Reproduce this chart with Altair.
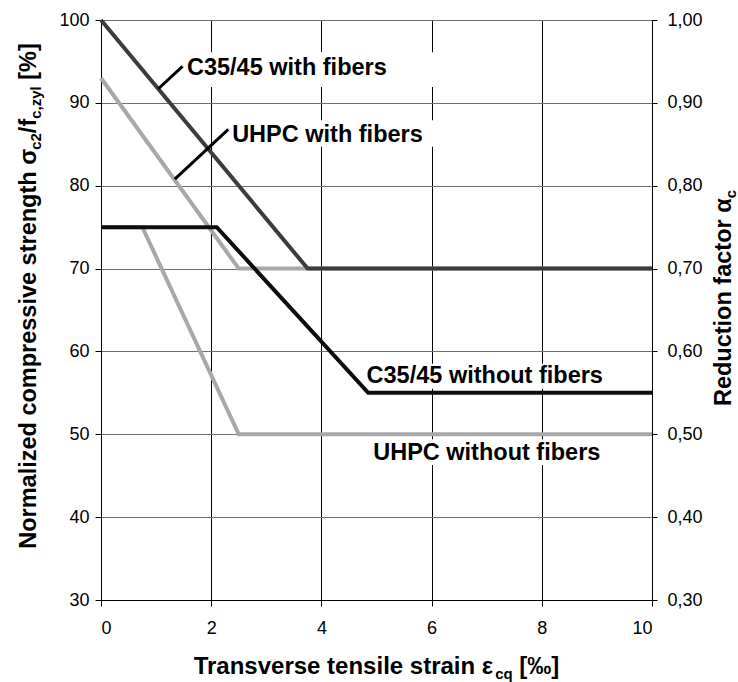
import altair as alt
import pandas as pd

# ---------------- data ----------------
strain_c35_fib = [0, 3.75, 10]
strength_c35_fib = [100, 70, 70]
strain_uhpc_fib = [0, 2.5, 10]
strength_uhpc_fib = [93, 70, 70]
strain_c35_nofib = [0, 2.1, 4.85, 10]
strength_c35_nofib = [75, 75, 55, 55]
strain_uhpc_nofib = [0, 0.75, 2.5, 10]
strength_uhpc_nofib = [75, 75, 50, 50]

x_ticks = [0, 2, 4, 6, 8, 10]
y_ticks = [30, 40, 50, 60, 70, 80, 90, 100]
factor_ticks = [0.30, 0.40, 0.50, 0.60, 0.70, 0.80, 0.90, 1.00]

label_texts = ["C35/45 with fibers", "UHPC with fibers", "C35/45 without fibers", "UHPC without fibers"]
label_x = [1.56, 2.38, 4.82, 4.94]
label_y = [94.2, 86.1, 57.0, 47.7]
box_x1 = [1.50, 2.33, 4.75, 4.85]
box_x2 = [6.15, 6.15, 10.0, 9.00]
box_y1 = [91.9, 84.7, 55.5, 46.3]
box_y2 = [96.1, 87.9, 58.5, 49.4]

leader_id = ["a", "a", "b", "b"]
leader_x = [1.04, 1.48, 1.34, 2.31]
leader_y = [91.7, 94.4, 80.8, 86.8]

# ---------------- styling ----------------
F = "Liberation Sans"
FS_L = 23.5
FS_S = 15
SUB_SHIFT = 5
W_PLOT, H_PLOT = 551, 580
PAD = {"left": 101, "top": 20, "right": 86, "bottom": 82}

xs = alt.Scale(domain=[0, 10], nice=False, zero=False)
ys = alt.Scale(domain=[30, 100], nice=False, zero=False)
xaxis = alt.Axis(values=x_ticks, title=None, grid=True, gridColor="black", gridWidth=1,
                 tickSize=6, labelPadding=13, format="d")
yaxis = alt.Axis(values=y_ticks, title=None, grid=True, gridColor="#6e6e6e", gridWidth=1,
                 tickSize=6, labelPadding=6, format="d")


def X(f):
    return alt.X(f, type="quantitative", scale=xs, axis=xaxis)


def Y(f):
    return alt.Y(f, type="quantitative", scale=ys, axis=yaxis)


boxes = alt.Chart(pd.DataFrame({"x1": box_x1, "x2": box_x2, "y1": box_y1, "y2": box_y2})).mark_rect(
    fill="white", strokeWidth=0
).encode(x=X("x1"), x2="x2", y=Y("y1"), y2="y2")


def line(xv, yv, color):
    return alt.Chart(pd.DataFrame({"e": xv, "s": yv})).mark_line(
        color=color, strokeWidth=4, strokeJoin="miter"
    ).encode(x=X("e"), y=Y("s"), order=alt.Order("e:Q"))


l_uhpc_nf = line(strain_uhpc_nofib, strength_uhpc_nofib, "#a8a8a8")
l_uhpc_f = line(strain_uhpc_fib, strength_uhpc_fib, "#a8a8a8")
l_c35_f = line(strain_c35_fib, strength_c35_fib, "#3c3c3c")
l_c35_nf = line(strain_c35_nofib, strength_c35_nofib, "#0d0d0d")

leaders = alt.Chart(pd.DataFrame({"id": leader_id, "x": leader_x, "y": leader_y})).mark_line(
    color="black", strokeWidth=3
).encode(x=X("x"), y=Y("y"), detail="id:N")

labels = alt.Chart(pd.DataFrame({"t": label_texts, "x": label_x, "y": label_y})).mark_text(
    align="left", baseline="middle", font=F, fontSize=FS_L, fontWeight="bold", color="black"
).encode(x=X("x"), y=Y("y"), text="t:N")

# ---------------- composed axis titles (with subscripts) ----------------
WID = {' ': 278, '%': 889, ',': 278, '/': 278, '[': 333, ']': 333, '‰': 1000,
       '0': 556, '1': 556, '2': 556, '3': 556, '4': 556, '5': 556,
       'N': 722, 'R': 722, 'T': 611,
       'a': 556, 'b': 611, 'c': 556, 'd': 611, 'e': 556, 'f': 333, 'g': 611, 'h': 611,
       'i': 278, 'l': 278, 'm': 889, 'n': 611, 'o': 611, 'p': 611, 'q': 611, 'r': 389,
       's': 556, 't': 333, 'u': 611, 'v': 556, 'y': 556, 'z': 500,
       'σ': 640, 'α': 620, 'ε': 500}


def tw(s, size):
    return sum(WID.get(ch, 556) for ch in s) / 1000 * size


def title_layers(segs, horizontal, base, center):
    total = sum(tw(t, s) for t, s, _ in segs)
    out = []
    cum = 0.0
    for t, s, sub in segs:
        shift = SUB_SHIFT if sub else 0
        lead = len(t) - len(t.lstrip(" "))
        off = tw(" " * lead, s)
        txt = t.strip(" ")
        if horizontal:
            px, py, ang = center - total / 2 + cum + off, base + shift, 0
        else:
            px, py, ang = base + shift, center + total / 2 - cum - off, 270
        out.append(
            alt.Chart(pd.DataFrame({"t": [txt]})).mark_text(
                align="left", baseline="alphabetic", font=F, fontSize=s, fontWeight="bold",
                color="black", angle=ang
            ).encode(x=alt.value(px), y=alt.value(py), text="t:N")
        )
        cum += tw(t, s)
    return out


left_title = title_layers(
    [("Normalized compressive strength σ", 23.5, False), ("c2", FS_S, True), ("/f", 23.5, False),
     ("c,zyl", FS_S, True), (" [%]", 23.5, False)],
    horizontal=False, base=36 - PAD["left"], center=296 - PAD["top"])
bottom_title = title_layers(
    [("Transverse tensile strain ε", 24, False), ("cq", FS_S, True), (" [‰]", 24, False)],
    horizontal=True, base=674 - PAD["top"], center=W_PLOT / 2)
right_title = title_layers(
    [("Reduction factor α", 23.5, False), ("c", FS_S, True)],
    horizontal=False, base=731 - PAD["left"], center=298 - PAD["top"])

main = alt.layer(boxes, l_uhpc_nf, l_uhpc_f, l_c35_f, l_c35_nf, leaders, labels,
                 *left_title, *bottom_title, *right_title)

right_axis = alt.Chart(pd.DataFrame({"f": factor_ticks})).mark_point(opacity=0).encode(
    x=alt.value(W_PLOT),
    y=alt.Y("f:Q", scale=alt.Scale(domain=[0.3, 1.0], nice=False, zero=False),
            axis=alt.Axis(orient="right", values=factor_ticks, title=None, grid=False,
                          tickSize=5, labelPadding=10,
                          labelExpr="replace(format(datum.value, '.2f'), '.', ',')"))
)

chart = alt.layer(main, right_axis).resolve_scale(y="independent").properties(
    width=W_PLOT, height=H_PLOT, padding=PAD, autosize=alt.AutoSizeParams(type="none"),
    background="white"
).configure_view(strokeWidth=0).configure_axis(
    labelFont=F, labelFontSize=18, labelColor="black", domainColor="black",
    tickColor="black", domainWidth=1, tickWidth=1
)

chart.save("out.html", embed_options={"renderer": "svg", "actions": False})
